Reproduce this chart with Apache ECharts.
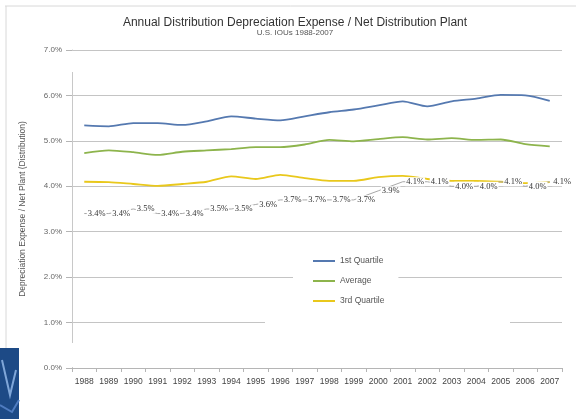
<!DOCTYPE html>
<html>
<head>
<meta charset="utf-8">
<script src="https://cdn.jsdelivr.net/npm/echarts@6/dist/echarts.min.js"></script>
<style>
  html, body { margin: 0; padding: 0; background: #fff; }
  #chart { width: 576px; height: 419px; }
</style>
</head>
<body>
<div id="chart"></div>
<script>
// Annual distribution depreciation expense as a share of net distribution plant, 1988-2007
const years = ['1988','1989','1990','1991','1992','1993','1994','1995','1996','1997',
               '1998','1999','2000','2001','2002','2003','2004','2005','2006','2007'];

const firstQuartile = [5.34, 5.32, 5.39, 5.39, 5.35, 5.43, 5.54, 5.49, 5.45, 5.54,
                       5.63, 5.69, 5.78, 5.87, 5.76, 5.87, 5.93, 6.01, 6.00, 5.88];
const average       = [4.73, 4.79, 4.75, 4.69, 4.76, 4.79, 4.82, 4.86, 4.86, 4.92,
                       5.02, 4.99, 5.04, 5.08, 5.03, 5.06, 5.02, 5.03, 4.93, 4.88];
const thirdQuartile = [4.10, 4.09, 4.05, 4.01, 4.05, 4.10, 4.22, 4.16, 4.25, 4.18,
                       4.12, 4.12, 4.20, 4.23, 4.16, 4.12, 4.12, 4.10, 4.07, 4.09];
const median        = [3.4, 3.4, 3.5, 3.4, 3.4, 3.5, 3.5, 3.6, 3.7, 3.7,
                       3.7, 3.7, 3.9, 4.1, 4.1, 4.0, 4.0, 4.1, 4.0, 4.1];

const yTicks = [0, 1, 2, 3, 4, 5, 6, 7];

const chart = echarts.init(document.getElementById('chart'), null, { renderer: 'canvas' });

const FONT = 'Liberation Sans, Arial, sans-serif';

chart.setOption({
  animation: false,
  backgroundColor: '#ffffff',
  title: {
    text: 'Annual Distribution Depreciation Expense / Net Distribution Plant',
    subtext: 'U.S. IOUs 1988-2007',
    left: 290,
    textAlign: 'center',
    top: 12,
    itemGap: 0,
    textStyle: { fontFamily: FONT, fontSize: 12, fontWeight: 'normal', color: '#333' },
    subtextStyle: { fontFamily: FONT, fontSize: 8, color: '#555' }
  },
  legend: {
    data: ['1st Quartile', 'Average', '3rd Quartile'],
    orient: 'vertical',
    left: 293,
    top: 250,
    padding: [5, 14, 5, 20],
    backgroundColor: '#ffffff',
    itemWidth: 22,
    itemHeight: 2,
    itemGap: 8,
    icon: 'rect',
    textStyle: { fontFamily: FONT, fontSize: 8.5, color: '#555', lineHeight: 12 }
  },
  grid: { left: 72, right: 14, top: 50, bottom: 51, containLabel: false },
  xAxis: {
    type: 'category',
    data: years,
    boundaryGap: true,
    axisLine: { lineStyle: { color: '#b5b5b5', width: 1 } },
    axisTick: { show: true, interval: 0, length: 4, lineStyle: { color: '#b5b5b5' } },
    axisLabel: { interval: 0, fontFamily: FONT, fontSize: 8.5, color: '#444', margin: 9 },
    splitLine: { show: false }
  },
  yAxis: {
    type: 'value',
    min: yTicks[0],
    max: yTicks[yTicks.length - 1],
    interval: 1,
    name: 'Depreciation Expense / Net Plant (Distribution)',
    nameLocation: 'middle',
    nameRotate: 90,
    nameGap: 45,
    nameTextStyle: { fontFamily: FONT, fontSize: 8.5, color: '#555' },
    axisLine: { show: true, lineStyle: { color: '#c8c8c8', width: 1 } },
    axisTick: { show: true, length: 6, lineStyle: { color: '#b5b5b5' } },
    axisLabel: {
      fontFamily: FONT, fontSize: 8, color: '#666', margin: 10,
      formatter: v => v.toFixed(1) + '%'
    },
    splitLine: { show: true, lineStyle: { color: '#c4c4c4', width: 1 } }
  },
  series: [
    {
      name: '1st Quartile', type: 'line', data: firstQuartile,
      smooth: 0.25, showSymbol: false, symbol: 'none',
      lineStyle: { color: '#5579b0', width: 1.8 }, itemStyle: { color: '#5579b0' }, z: 5
    },
    {
      name: 'Average', type: 'line', data: average,
      smooth: 0.25, showSymbol: false, symbol: 'none',
      lineStyle: { color: '#8db44c', width: 1.8 }, itemStyle: { color: '#8db44c' }, z: 5
    },
    {
      name: '3rd Quartile', type: 'line', data: thirdQuartile,
      smooth: 0.25, showSymbol: false, symbol: 'none',
      lineStyle: { color: '#e9c81c', width: 1.8 }, itemStyle: { color: '#e9c81c' }, z: 5
    },
    {
      name: 'Median', type: 'line', data: median,
      smooth: false,
      symbol: 'circle',
      symbolSize: 1,
      showSymbol: true,
      showAllSymbol: true,
      lineStyle: { color: '#a8a8a8', width: 1 },
      itemStyle: { color: 'rgba(255,255,255,0)', borderWidth: 0 },
      z: 6,
      label: {
        show: true,
        position: 'right',
        distance: 2,
        fontFamily: 'Liberation Serif, serif',
        fontSize: 8.5,
        color: '#333',
        backgroundColor: '#ffffff',
        padding: [0, 1],
        formatter: p => p.value.toFixed(1) + '%'
      }
    }
  ],
  graphic: [
    // outer frame lines
    { type: 'line', shape: { x1: 5, y1: 6, x2: 576, y2: 6 }, style: { stroke: '#d8d8d8', lineWidth: 1 }, z: 1 },
    { type: 'line', shape: { x1: 6, y1: 6, x2: 6, y2: 348 }, style: { stroke: '#d8d8d8', lineWidth: 1 }, z: 1 },
    // breaks in the vertical axis line and the 1% gridline
    { type: 'rect', shape: { x: 69, y: 51, width: 6, height: 21 }, style: { fill: '#ffffff' }, z: 50 },
    { type: 'rect', shape: { x: 69, y: 343, width: 6, height: 24 }, style: { fill: '#ffffff' }, z: 50 },
    { type: 'rect', shape: { x: 265, y: 320, width: 245, height: 8 }, style: { fill: '#ffffff' }, z: 50 },
    // corner emblem
    { type: 'rect', shape: { x: 0, y: 348, width: 19, height: 71 }, style: { fill: '#1d4a86' }, z: 50 },
    { type: 'polyline', shape: { points: [[2, 360], [10, 395], [16, 370]] },
      style: { stroke: '#7fa6d8', lineWidth: 2, fill: 'none' }, z: 51 },
    { type: 'polyline', shape: { points: [[0, 405], [12, 412], [19, 400]] },
      style: { stroke: '#4f7cc0', lineWidth: 2, fill: 'none' }, z: 51 }
  ]
});
</script>
</body>
</html>
